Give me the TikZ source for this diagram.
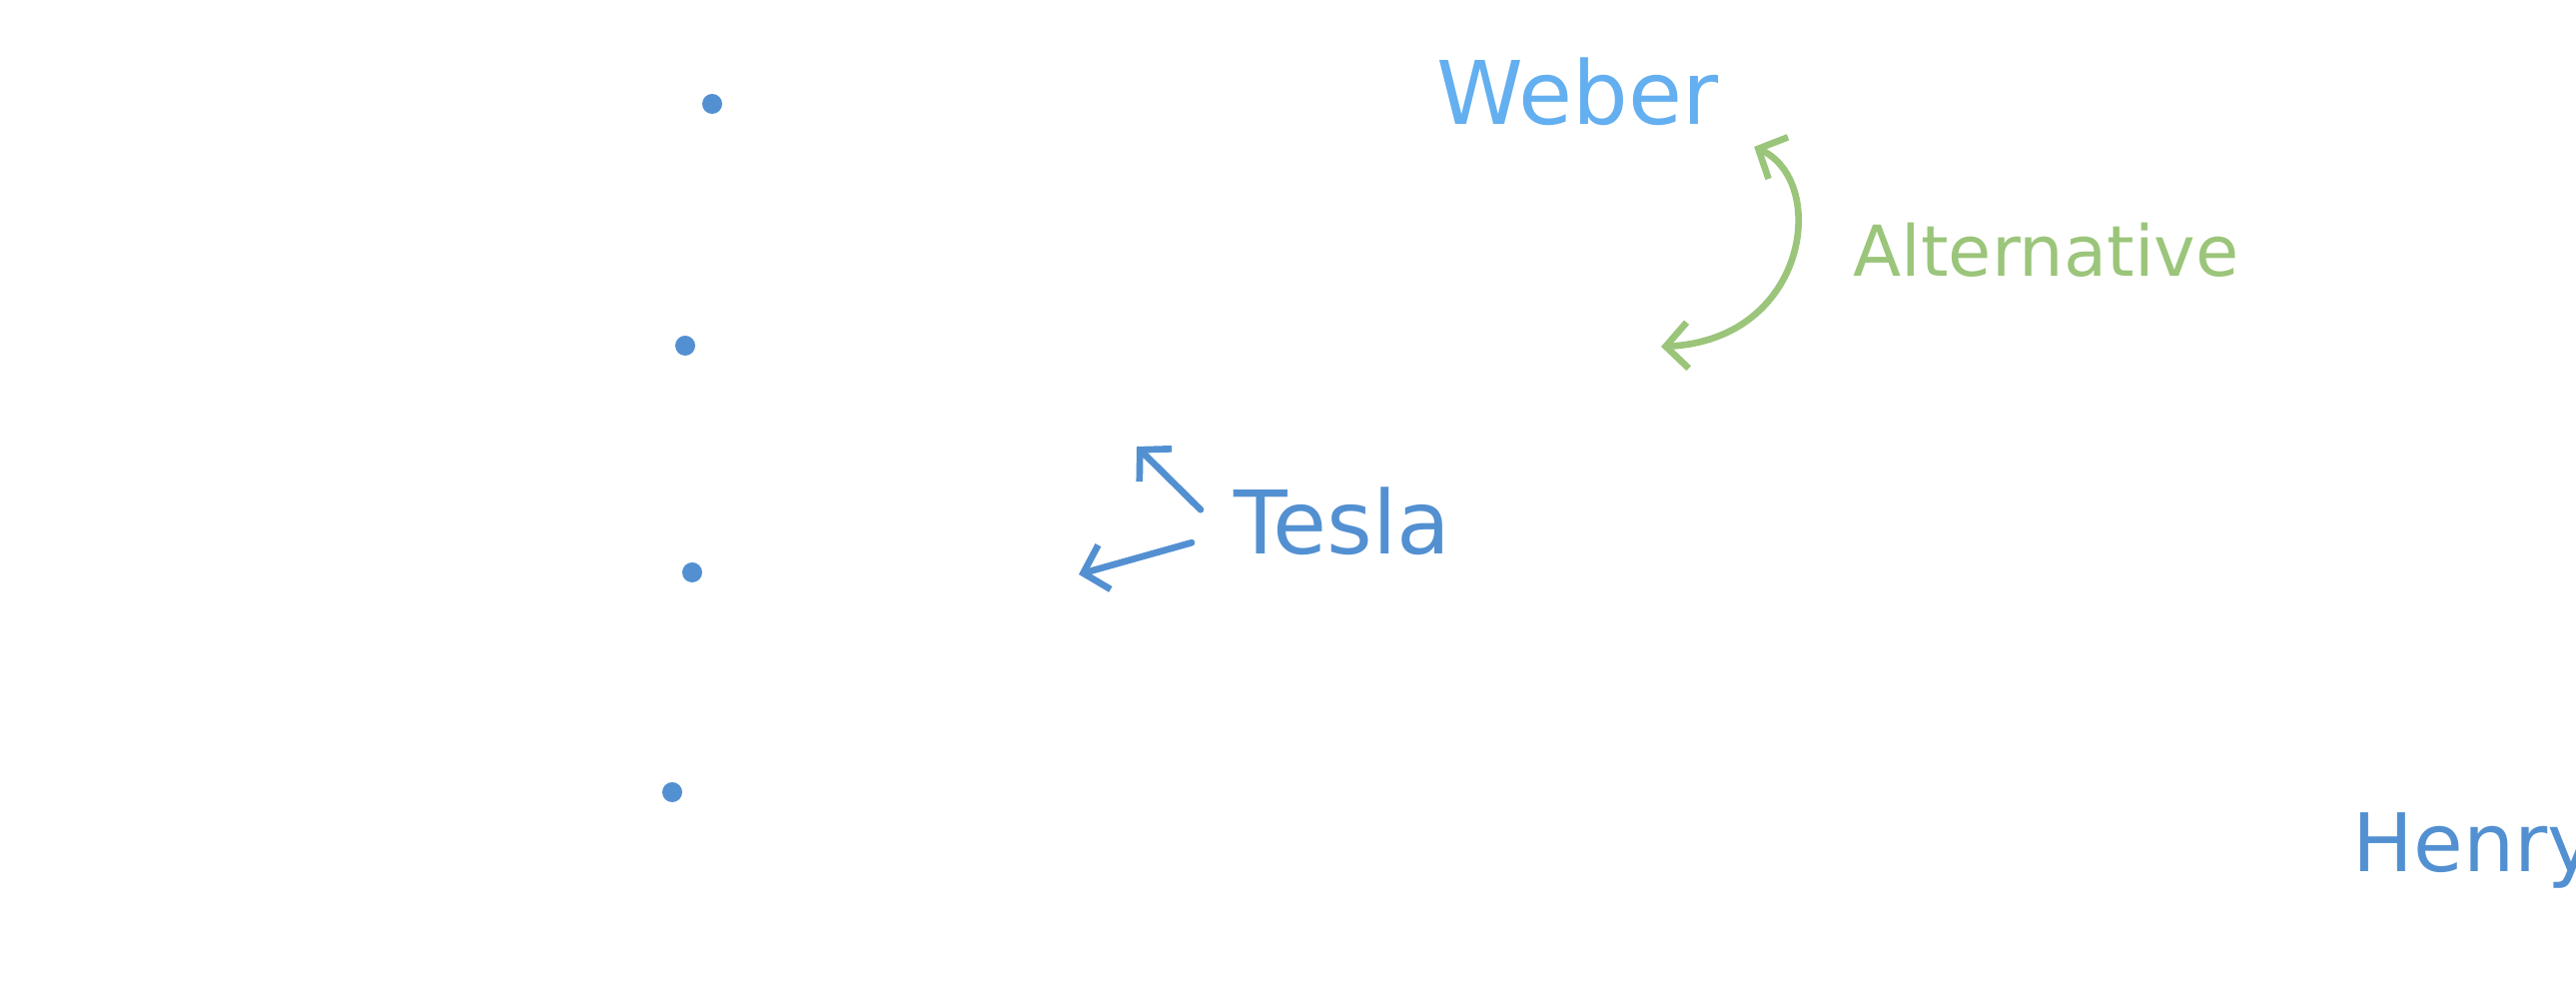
\documentclass[tikz,border=0pt]{standalone}
\usepackage{fontspec}
\setmainfont{DejaVu Sans}
\usetikzlibrary{arrows.meta,positioning,calc}
\definecolor{inkblue}{RGB}{83,144,209}
\definecolor{skyblue}{RGB}{99,175,240}
\definecolor{leafgreen}{RGB}{155,197,122}

\begin{document}
\begin{tikzpicture}[
  handword/.style={inner sep=0pt,anchor=base west},
  bullet/.style={circle,fill=inkblue,inner sep=0pt,minimum size=0.2cm},
  pointer/.style={-{Straight Barb[length=2.2mm,width=4.6mm]},line width=1.9pt,
    line cap=round,line join=round,inkblue},
  swap/.style={{Straight Barb[length=2.2mm,width=4.6mm]}-{Straight Barb[length=2.2mm,width=4.6mm]},
    line width=1.9pt,line cap=round,line join=round,leafgreen},
]
  \useasboundingbox (0,0) rectangle (25.79,10);
  \clip (0,0) rectangle (25.79,10);

  \foreach \n/\x/\y in {d1/7.13/8.96,d2/6.86/6.54,d3/6.93/4.27,d4/6.73/2.07}
    \node[bullet] (\n) at (\x,\y) {};

  \node[handword,skyblue,font=\fontsize{25}{30}\selectfont] (weber) at (14.38,8.75) {Weber};
  \node[handword,leafgreen,font=\fontsize{20}{24}\selectfont] (alt) at (18.55,7.23) {Alternative};
  \node[handword,inkblue,font=\fontsize{25}{30}\selectfont] (tesla) at (12.35,4.45) {Tesla};
  \node[handword,inkblue,font=\fontsize{23}{28}\selectfont] (henry) at (23.55,1.27) {Henry};

  \coordinate (altend) at (16.63,6.53);
  \coordinate (upend) at (11.38,5.53);
  \coordinate (leftend) at (10.80,4.25);

  \draw[swap] ($(weber.south east)+(0.35,-0.2)$) .. controls +(0.75,-0.35) and +(1.47,0.07) .. (altend);
  \draw[pointer] ($(tesla.west)+(-0.33,0.12)$) -- (upend);
  \draw[pointer] ($(tesla.west)+(-0.42,-0.21)$) -- (leftend);
\end{tikzpicture}
\end{document}
